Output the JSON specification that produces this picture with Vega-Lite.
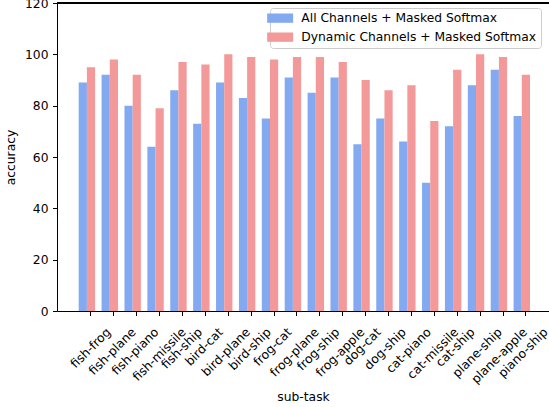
{
  "$schema": "https://vega.github.io/schema/vega-lite/v6.json",
  "width": 492,
  "height": 308,
  "autosize": {"type": "none"},
  "padding": {"left": 57, "top": 3, "right": 0, "bottom": 96},
  "background": "white",
  "config": {
    "view": {"stroke": null},
    "font": "DejaVu Sans",
    "axis": {
      "labelFont": "DejaVu Sans",
      "titleFont": "DejaVu Sans",
      "labelFontSize": 12.3,
      "titleFontSize": 12.3,
      "titleFontWeight": "normal",
      "labelColor": "black",
      "titleColor": "black",
      "domainColor": "black",
      "tickColor": "black",
      "grid": false,
      "domainWidth": 1,
      "tickWidth": 1,
      "tickSize": 4.5
    },
    "legend": {
      "labelFont": "DejaVu Sans",
      "labelFontSize": 12.3,
      "labelColor": "black",
      "labelLimit": 0,
      "symbolType": "M-2.6,-0.93L2.6,-0.93L2.6,0.93L-2.6,0.93Z",
      "symbolSize": 100,
      "symbolStrokeWidth": 0,
      "symbolOpacity": 1,
      "strokeColor": "#cccccc",
      "fillColor": "rgba(255,255,255,0.8)",
      "cornerRadius": 3,
      "padding": 4,
      "labelOffset": 15,
      "rowPadding": 6
    }
  },
  "data": {
    "values": [
      {"task": "fish-frog", "method": "All Channels + Masked Softmax", "accuracy": 89},
      {"task": "fish-frog", "method": "Dynamic Channels + Masked Softmax", "accuracy": 95},
      {"task": "fish-plane", "method": "All Channels + Masked Softmax", "accuracy": 92},
      {"task": "fish-plane", "method": "Dynamic Channels + Masked Softmax", "accuracy": 98},
      {"task": "fish-piano", "method": "All Channels + Masked Softmax", "accuracy": 80},
      {"task": "fish-piano", "method": "Dynamic Channels + Masked Softmax", "accuracy": 92},
      {"task": "fish-missile", "method": "All Channels + Masked Softmax", "accuracy": 64},
      {"task": "fish-missile", "method": "Dynamic Channels + Masked Softmax", "accuracy": 79},
      {"task": "fish-ship", "method": "All Channels + Masked Softmax", "accuracy": 86},
      {"task": "fish-ship", "method": "Dynamic Channels + Masked Softmax", "accuracy": 97},
      {"task": "bird-cat", "method": "All Channels + Masked Softmax", "accuracy": 73},
      {"task": "bird-cat", "method": "Dynamic Channels + Masked Softmax", "accuracy": 96},
      {"task": "bird-plane", "method": "All Channels + Masked Softmax", "accuracy": 89},
      {"task": "bird-plane", "method": "Dynamic Channels + Masked Softmax", "accuracy": 100},
      {"task": "bird-ship", "method": "All Channels + Masked Softmax", "accuracy": 83},
      {"task": "bird-ship", "method": "Dynamic Channels + Masked Softmax", "accuracy": 99},
      {"task": "frog-cat", "method": "All Channels + Masked Softmax", "accuracy": 75},
      {"task": "frog-cat", "method": "Dynamic Channels + Masked Softmax", "accuracy": 98},
      {"task": "frog-plane", "method": "All Channels + Masked Softmax", "accuracy": 91},
      {"task": "frog-plane", "method": "Dynamic Channels + Masked Softmax", "accuracy": 99},
      {"task": "frog-ship", "method": "All Channels + Masked Softmax", "accuracy": 85},
      {"task": "frog-ship", "method": "Dynamic Channels + Masked Softmax", "accuracy": 99},
      {"task": "frog-apple", "method": "All Channels + Masked Softmax", "accuracy": 91},
      {"task": "frog-apple", "method": "Dynamic Channels + Masked Softmax", "accuracy": 97},
      {"task": "dog-cat", "method": "All Channels + Masked Softmax", "accuracy": 65},
      {"task": "dog-cat", "method": "Dynamic Channels + Masked Softmax", "accuracy": 90},
      {"task": "dog-ship", "method": "All Channels + Masked Softmax", "accuracy": 75},
      {"task": "dog-ship", "method": "Dynamic Channels + Masked Softmax", "accuracy": 86},
      {"task": "cat-piano", "method": "All Channels + Masked Softmax", "accuracy": 66},
      {"task": "cat-piano", "method": "Dynamic Channels + Masked Softmax", "accuracy": 88},
      {"task": "cat-missile", "method": "All Channels + Masked Softmax", "accuracy": 50},
      {"task": "cat-missile", "method": "Dynamic Channels + Masked Softmax", "accuracy": 74},
      {"task": "cat-ship", "method": "All Channels + Masked Softmax", "accuracy": 72},
      {"task": "cat-ship", "method": "Dynamic Channels + Masked Softmax", "accuracy": 94},
      {"task": "plane-ship", "method": "All Channels + Masked Softmax", "accuracy": 88},
      {"task": "plane-ship", "method": "Dynamic Channels + Masked Softmax", "accuracy": 100},
      {"task": "plane-apple", "method": "All Channels + Masked Softmax", "accuracy": 94},
      {"task": "plane-apple", "method": "Dynamic Channels + Masked Softmax", "accuracy": 99},
      {"task": "piano-ship", "method": "All Channels + Masked Softmax", "accuracy": 76},
      {"task": "piano-ship", "method": "Dynamic Channels + Masked Softmax", "accuracy": 92}
    ]
  },
  "layer": [
    {
      "mark": {"type": "bar"},
      "encoding": {
        "x": {
          "field": "task",
          "type": "nominal",
          "sort": null,
          "scale": {"paddingInner": 0.2835, "paddingOuter": 0.889, "align": 0.533},
          "axis": {
            "title": "sub-task",
            "labelAngle": -45,
            "labelAlign": "right",
            "labelBaseline": "top",
            "bandPosition": 0.75,
            "labelPadding": 7,
            "labelOverlap": false,
            "labelBound": false,
            "labelFlush": false,
            "titleY": 89,
            "titleBaseline": "alphabetic",
            "encoding": {
              "labels": {
                "dx": {"value": {"expr": "length(datum.label) * 1.54 - 3.5"}},
                "dy": {"value": {"expr": "length(datum.label) * 1.54 + 0.5"}}
              }
            }
          }
        },
        "xOffset": {
          "field": "method",
          "type": "nominal",
          "sort": null,
          "scale": {"paddingInner": 0, "paddingOuter": 0}
        },
        "y": {
          "field": "accuracy",
          "type": "quantitative",
          "scale": {"domain": [0, 120], "nice": false},
          "axis": {
            "title": "accuracy",
            "values": [0, 20, 40, 60, 80, 100, 120],
            "labelPadding": 4.5,
            "titleX": -43,
            "titleAngle": -90,
            "titleBaseline": "alphabetic"
          }
        },
        "color": {
          "field": "method",
          "type": "nominal",
          "sort": null,
          "scale": {"range": ["#83AAF1", "#F39999"]},
          "legend": {"title": null, "orient": "none", "legendX": 213, "legendY": 5}
        }
      }
    },
    {
      "mark": {"type": "rule", "color": "black", "strokeWidth": 1},
      "encoding": {"y": {"datum": 120}}
    }
  ]
}
